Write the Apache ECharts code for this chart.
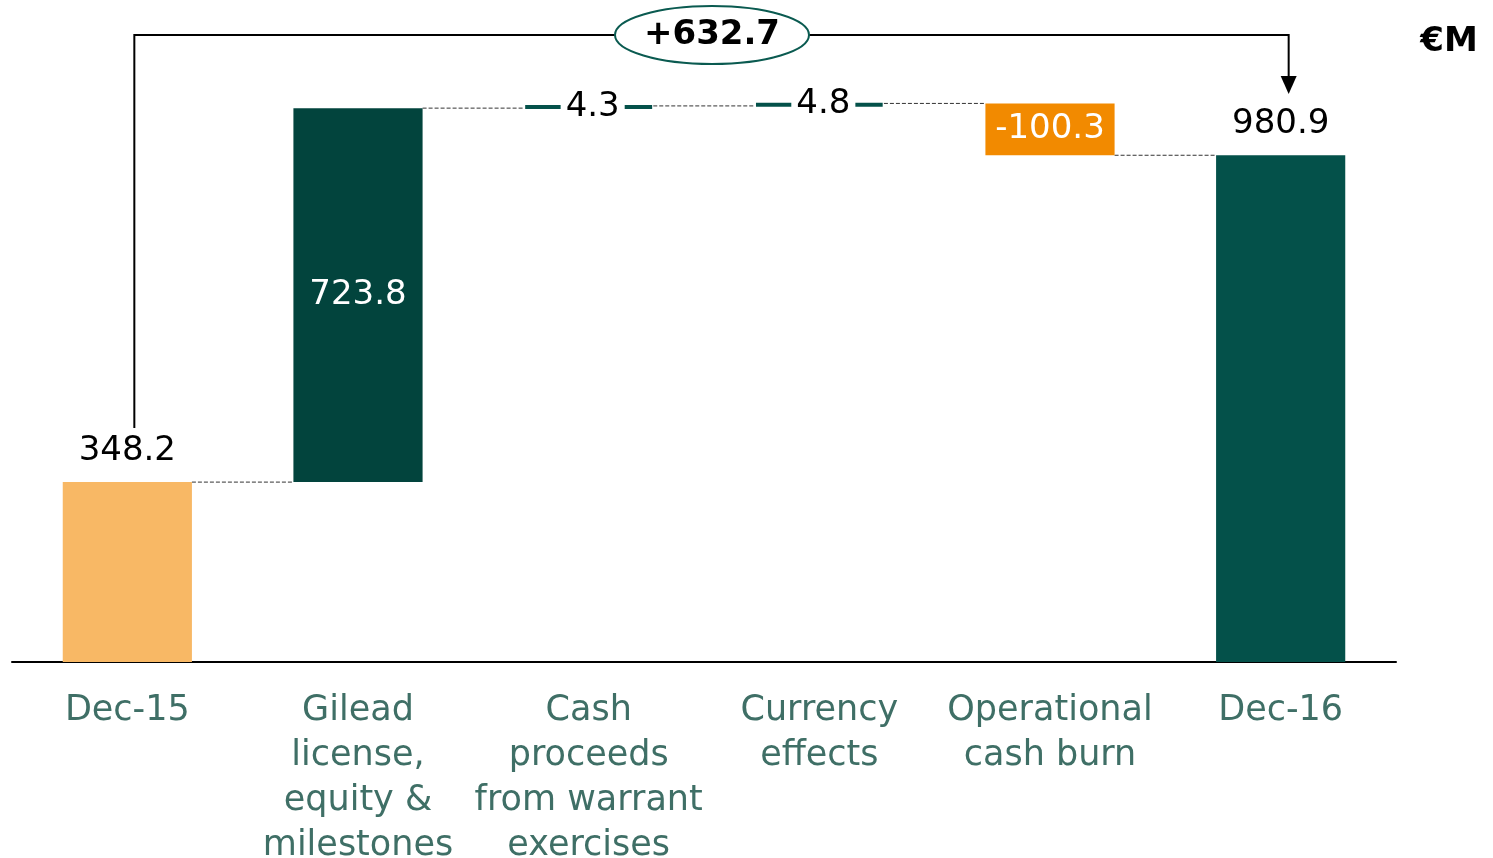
<!DOCTYPE html>
<html>
<head>
<meta charset="utf-8">
<script src="https://cdn.jsdelivr.net/npm/echarts@6/dist/echarts.min.js"></script>
<style>
  html, body { margin: 0; padding: 0; background: #fff; }
  #main { width: 1493px; height: 858px; }
</style>
</head>
<body>
<div id="main"></div>
<script>
// categories and values of the cash bridge
var categories = ['Dec-15', 'Gilead\nlicense,\nequity &\nmilestones', 'Cash\nproceeds\nfrom warrant\nexercises', 'Currency\neffects', 'Operational\ncash burn', 'Dec-16'];
var changes = [348.2, 723.8, 4.3, 4.8, -100.3, 980.9];
var isTotal = [true, false, false, false, false, true];
var colors = ['#F8B865', '#02443D', '#04514A', '#04514A', '#F28A00', '#04514A'];
var totalChange = '+632.7';

var FONT = 'DejaVu Sans';

// build invisible base + visible part for the waterfall
var baseData = [], valueData = [], levels = [];
var running = 0;
for (var i = 0; i < changes.length; i++) {
  var v = changes[i];
  if (isTotal[i]) {
    baseData.push(0);
    valueData.push(v);
    running = v;
  } else if (v >= 0) {
    baseData.push(running);
    valueData.push(v);
    running += v;
  } else {
    running += v;
    baseData.push(running);
    valueData.push(-v);
  }
  levels.push(running);
}

var labelCfg = [
  { show: true, position: 'top', color: '#000', fontSize: 34, distance: 14 },
  { show: true, position: 'inside', color: '#fff', fontSize: 34 },
  { show: true, position: 'inside', color: '#000', fontSize: 34, backgroundColor: '#fff', padding: [0, 5], offset: [4, 0] },
  { show: true, position: 'inside', color: '#000', fontSize: 34, backgroundColor: '#fff', padding: [0, 5], offset: [4, 0] },
  { show: true, position: 'inside', color: '#fff', fontSize: 34 },
  { show: true, position: 'top', color: '#000', fontSize: 34, distance: 14 }
];

var barItems = valueData.map(function (v, i) {
  var small = !isTotal[i] && Math.abs(changes[i]) < 10;
  return {
    value: v,
    itemStyle: {
      color: colors[i],
      borderColor: colors[i],
      borderWidth: small ? 4 : 0,
      borderRadius: small ? 3 : 0
    },
    label: Object.assign({ fontFamily: FONT, formatter: String(changes[i]) }, labelCfg[i])
  };
});

var myChart = echarts.init(document.getElementById('main'));

myChart.setOption({
  animation: false,
  textStyle: { fontFamily: FONT },
  grid: { left: 12, right: 97, top: 42, bottom: 196, containLabel: false, outerBoundsMode: 'none' },
  xAxis: {
    type: 'category',
    data: categories,
    axisLine: { lineStyle: { color: '#000', width: 2 } },
    axisTick: { show: false },
    axisLabel: {
      color: '#3F6F66', fontSize: 35, fontFamily: FONT,
      lineHeight: 45, margin: 26, interval: 0
    }
  },
  yAxis: {
    type: 'value', min: 0, max: 1200,
    show: false, splitLine: { show: false }
  },
  series: [
    {
      type: 'bar', stack: 'w', barWidth: '56%',
      itemStyle: { color: 'transparent' },
      data: baseData, silent: true
    },
    {
      type: 'bar', stack: 'w', barWidth: '56%',
      data: barItems
    },
    {
      // dashed connectors between consecutive bars
      type: 'custom',
      silent: true,
      data: levels.slice(0, levels.length - 1).map(function (lv, i) { return [i, lv]; }),
      renderItem: function (params, api) {
        var i = api.value(0);
        var p1 = api.coord([i, api.value(1)]);
        var p2 = api.coord([i + 1, api.value(1)]);
        var half = api.size([1, 0])[0] * 0.56 / 2;
        return {
          type: 'line',
          shape: { x1: p1[0] + half, y1: p1[1], x2: p2[0] - half, y2: p2[1] },
          style: { stroke: '#333', lineWidth: 1, lineDash: [4, 2] },
          z2: -1
        };
      }
    }
  ]
});

// bracket annotation from first to last total
var pL = myChart.convertToPixel({ seriesIndex: 1 }, [0, changes[0]]);
var pR = myChart.convertToPixel({ seriesIndex: 1 }, [5, changes[5]]);
var xl = pL[0] + 7, xr = pR[0] + 8, yb = 35;
var cx = 712;
myChart.setOption({
  graphic: [
    {
      type: 'polyline',
      shape: { points: [[xl, pL[1] - 54], [xl, yb], [xr, yb], [xr, 78]] },
      style: { stroke: '#000', lineWidth: 2, fill: null }
    },
    {
      type: 'polygon',
      shape: { points: [[xr - 8, 76], [xr + 8, 76], [xr, 94]] },
      style: { fill: '#000' }
    },
    {
      type: 'ellipse',
      shape: { cx: cx, cy: yb, rx: 97, ry: 29 },
      style: { fill: '#fff', stroke: '#0A5A50', lineWidth: 2 }
    },
    {
      type: 'text',
      x: cx, y: yb,
      style: {
        text: totalChange, fontFamily: FONT, fontSize: 34, fontWeight: 'bold',
        fill: '#000', align: 'center', verticalAlign: 'middle'
      }
    },
    {
      type: 'text',
      x: 1449, y: 42,
      style: {
        text: '€M', fontFamily: FONT, fontSize: 34, fontWeight: 'bold',
        fill: '#000', align: 'center', verticalAlign: 'middle'
      }
    }
  ]
});
</script>
</body>
</html>
